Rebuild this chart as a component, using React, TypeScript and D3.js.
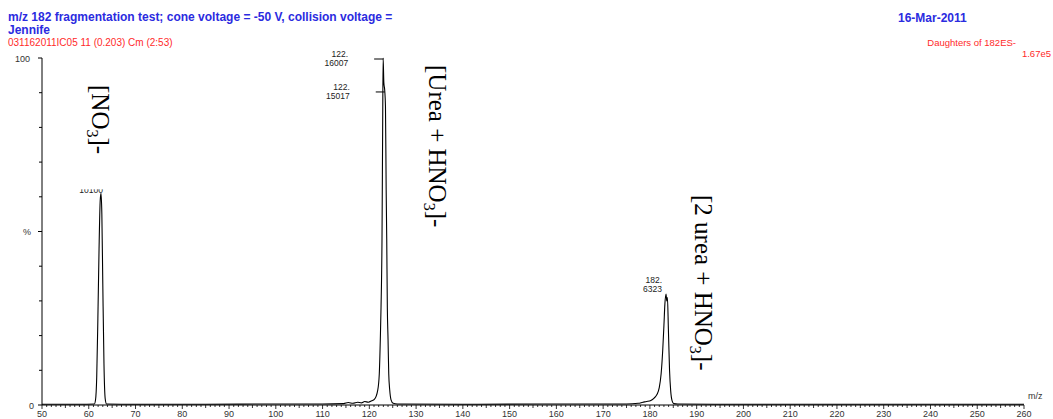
import React from 'react';
import * as d3 from 'd3';

// ---- data (m/z, relative intensity %) ----
const no3Region: [number, number][] = [
  [50, 0.2], [58, 0.2], [61.2, 0.3], [61.45, 1.5], [61.7, 8], [61.95, 25], [62.2, 45],
  [62.45, 59], [62.62, 61], [62.8, 55], [63.0, 35], [63.25, 12], [63.5, 2], [63.8, 0.3],
];
const ureaRegion: [number, number][] = [
  [70, 0.2], [85, 0.2], [100, 0.3], [110, 0.3], [114.5, 0.4], [115.5, 0.7], [116.5, 0.5],
  [117.5, 0.8], [118.3, 0.6], [119.0, 1.0], [119.8, 0.8], [120.5, 1.2], [121.07, 1.6],
  [121.8, 4.3], [122.13, 9], [122.35, 19], [122.5, 28], [122.71, 48], [122.85, 80],
  [122.95, 100], [123.1, 93], [123.3, 90.5], [123.45, 86], [123.6, 62], [123.72, 48],
  [123.85, 28], [124.0, 19], [124.15, 9], [124.36, 4.3], [124.64, 1.5], [125.1, 0.5], [126, 0.3],
];
const diureaRegion: [number, number][] = [
  [140, 0.2], [160, 0.3], [175, 0.3], [177.5, 0.5], [178.5, 0.8], [179.3, 1.0], [180.2, 1.3],
  [180.9, 2], [181.5, 3], [182.0, 5], [182.4, 9], [182.75, 16], [183.0, 23], [183.2, 29],
  [183.45, 32], [183.6, 30], [183.75, 31], [183.95, 22], [184.2, 10], [184.45, 4],
  [184.75, 1.2], [185.1, 0.4], [186, 0.3], [200, 0.2], [230, 0.2], [260, 0.2],
];

const xTickLabels = [50, 60, 70, 80, 90, 100, 110, 120, 130, 140, 150, 160, 170, 180, 190, 200, 210, 220, 230, 240, 250, 260];
const yTickValues = [0, 10, 20, 30, 40, 50, 60, 70, 80, 90, 100];

const peakLabelsLeader = [
  { mz: 122.95, intensity: 100, lines: ['122.', '16007'] },
  { mz: 123.3, intensity: 90.5, lines: ['122.', '15017'] },
];
const peakLabelsTop = [
  { mz: 183.45, intensity: 32, lines: ['182.', '6323'] },
];
const clippedLabel = { mz: 62.62, intensity: 61, text: '10100' };

const annotations = [
  { pre: '[NO', sub: '3', post: ']-' },
  { pre: '[Urea + HNO', sub: '3', post: ']-' },
  { pre: '[2 urea + HNO', sub: '3', post: ']-' },
];

const titleText = 'm/z 182 fragmentation test; cone voltage = -50 V, collision voltage =';
const userText = 'Jennife';
const sampleText = '031162011IC05 11 (0.203) Cm (2:53)';
const dateText = '16-Mar-2011';
const scanText = 'Daughters of 182ES-';
const scaleText = '1.67e5';

export default function App() {
  const W = 1053, H = 419;
  const x = d3.scaleLinear().domain([50, 260]).range([42, 1024]);
  const y = d3.scaleLinear().domain([0, 100]).range([405, 58]);
  const spectrum = [...no3Region, ...ureaRegion, ...diureaRegion];
  const line = d3.line<[number, number]>()
    .x(d => x(d[0]))
    .y(d => y(d[1]))
    .curve(d3.curveMonotoneX);

  const minorTicks = d3.range(50, 261, 1);
  const blue = '#2b2be0';
  const red = '#ff2a2a';
  const sans = 'Liberation Sans, Arial, sans-serif';
  const serif = 'Liberation Serif, Times New Roman, serif';
  const x0 = x(50);
  const yBase = y(0);

  const annX = [92, 429, 695];
  const annY = [85, 65, 195];

  return (
    <svg width={W} height={H} style={{ position: 'absolute', left: 0, top: 0, background: '#fff' }}
      fontFamily={sans}>
      <defs>
        <clipPath id="clipLbl">
          <rect x={0} y={y(clippedLabel.intensity) - 4} width={W} height={20} />
        </clipPath>
      </defs>
      {/* header */}
      <text x={8} y={20.5} fontSize={12} fontWeight="bold" fill={blue}>{titleText}</text>
      <text x={8} y={33.5} fontSize={12} fontWeight="bold" fill={blue}>{userText}</text>
      <text x={8} y={46} fontSize={10} fill={red}>{sampleText}</text>
      <text x={898} y={21.5} fontSize={12} fontWeight="bold" fill={blue}>{dateText}</text>
      <text x={1016} y={46} fontSize={9.5} fill={red} textAnchor="end">{scanText}</text>
      <text x={1051} y={57} fontSize={9.5} fill={red} textAnchor="end">{scaleText}</text>

      {/* y axis */}
      <line x1={x0} x2={x0} y1={y(100)} y2={yBase} stroke="#000" strokeWidth={1} />
      {yTickValues.map(v => (
        <line key={'yt' + v} x1={x0 - (v % 50 === 0 ? 4 : 3)} x2={x0} y1={y(v)} y2={y(v)} stroke="#000" strokeWidth={1} />
      ))}
      <text x={30} y={y(100) + 3.5} fontSize={9} fill="#333" textAnchor="end">100</text>
      <text x={31} y={y(50) + 3.5} fontSize={9} fill="#333" textAnchor="end">%</text>
      <text x={34} y={yBase + 3.5} fontSize={9} fill="#333" textAnchor="end">0</text>

      {/* x axis */}
      <line x1={x0} x2={x(260)} y1={yBase} y2={yBase} stroke="#000" strokeWidth={1} />
      {minorTicks.map(v => (
        <line key={'xt' + v} x1={x(v)} x2={x(v)} y1={yBase}
          y2={yBase + (v % 10 === 0 ? 4 : v % 5 === 0 ? 3 : 2)} stroke="#000" strokeWidth={0.8} />
      ))}
      {xTickLabels.map(v => (
        <text key={'xl' + v} x={x(v)} y={417} fontSize={9} fill="#333" textAnchor="middle">{v}</text>
      ))}
      <text x={1028} y={399} fontSize={9} fill="#333">m/z</text>

      {/* spectrum */}
      <path d={line(spectrum) || ''} fill="none" stroke="#000" strokeWidth={1.1} />

      {/* peak labels */}
      {peakLabelsLeader.map((p, i) => {
        const px = x(p.mz), py = y(p.intensity);
        return (
          <g key={'pl' + i}>
            <line x1={px - 9} x2={px} y1={py + 1} y2={py + 1} stroke="#000" strokeWidth={1} />
            <text x={px - 35} y={py - 1} fontSize={8.5} fill="#222" textAnchor="end">{p.lines[0]}</text>
            <text x={px - 35} y={py + 8} fontSize={8.5} fill="#222" textAnchor="end">{p.lines[1]}</text>
          </g>
        );
      })}
      {peakLabelsTop.map((p, i) => {
        const px = x(p.mz), py = y(p.intensity);
        return (
          <g key={'pt' + i}>
            <text x={px - 4} y={py - 11} fontSize={8.5} fill="#222" textAnchor="end">{p.lines[0]}</text>
            <text x={px - 4} y={py - 2} fontSize={8.5} fill="#222" textAnchor="end">{p.lines[1]}</text>
          </g>
        );
      })}
      <text x={x(clippedLabel.mz) + 2} y={y(clippedLabel.intensity) - 0.5} fontSize={8.5} fill="#222"
        textAnchor="end" clipPath="url(#clipLbl)">{clippedLabel.text}</text>

      {/* rotated annotations */}
      {annotations.map((a, i) => (
        <text key={'an' + i} transform={`translate(${annX[i]},${annY[i]}) rotate(90)`}
          fontFamily={serif} fontSize={25} fill="#000">
          {a.pre}
          <tspan fontSize={16} dy={5}>{a.sub}</tspan>
          <tspan dy={-5}>{a.post}</tspan>
        </text>
      ))}
    </svg>
  );
}
